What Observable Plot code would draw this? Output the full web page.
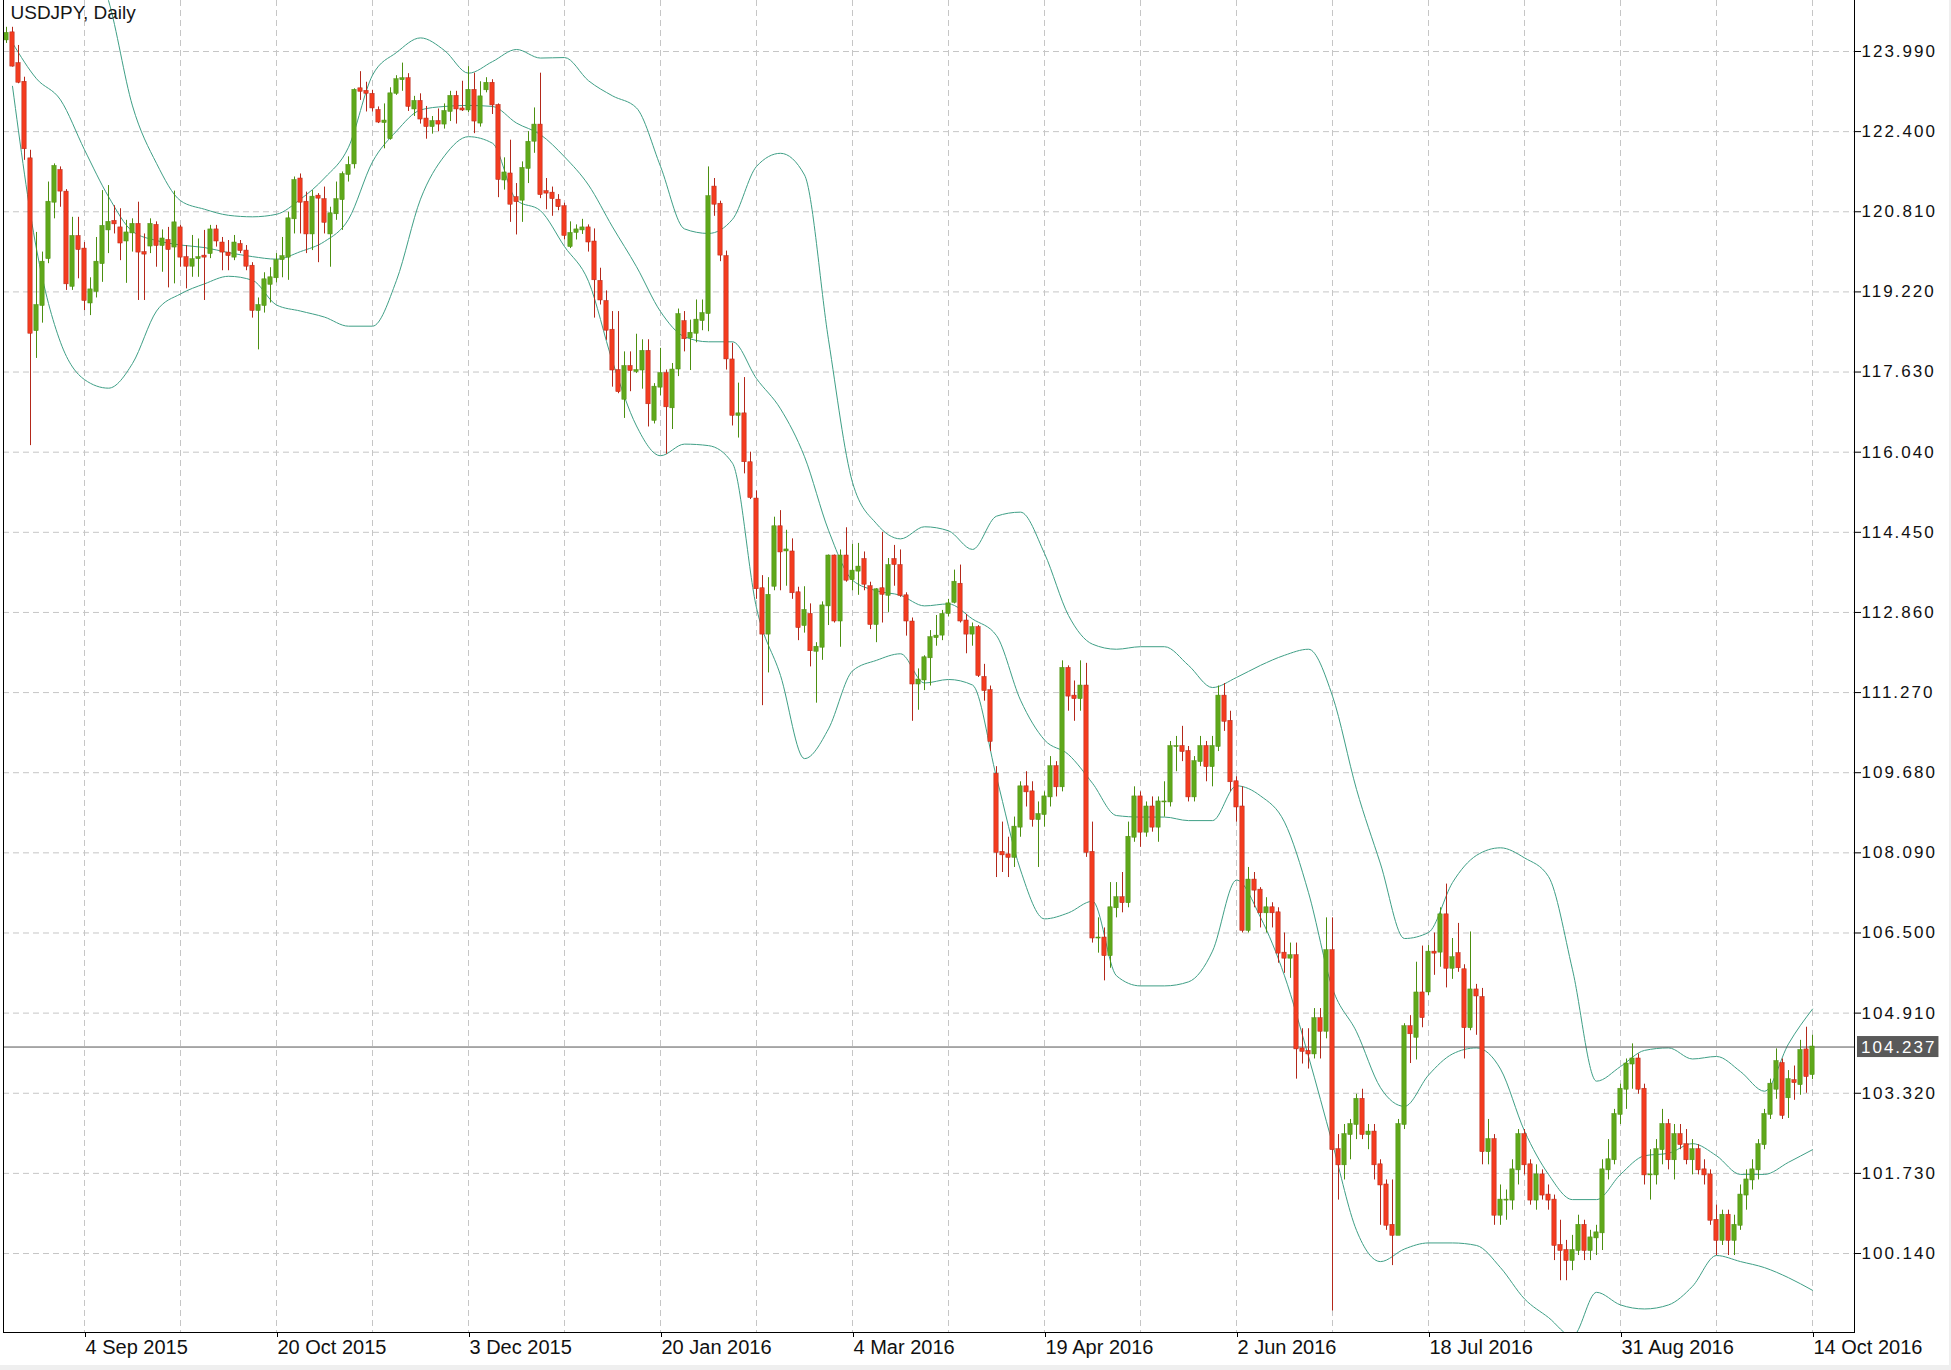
<!DOCTYPE html>
<html><head><meta charset="utf-8">
<script src="https://cdn.jsdelivr.net/npm/d3@7"></script>
<script src="https://cdn.jsdelivr.net/npm/@observablehq/plot@0.6"></script>
<style>
html,body{margin:0;padding:0;background:#efefef;}
#chart{width:1949px;height:1365px;background:#fff;}
svg{display:block}
</style></head><body><div id="chart"></div>
<script>
const title = "USDJPY, Daily";
const startDate = "2015-08-18";
const holidays = ["2015-12-25","2016-01-01"];
const open = [
124.22,124.36,123.75,123.38,121.86,118.45,118.95,119.88,121.00,121.63,
121.20,119.33,120.32,120.07,119.00,119.23,119.78,120.45,120.62,120.49,
120.23,120.39,120.56,120.00,120.13,120.54,120.14,120.24,120.11,120.49,
119.90,119.73,119.88,119.93,119.98,120.45,120.19,119.99,119.91,120.16,
120.03,119.73,118.85,118.95,119.37,119.50,119.86,119.91,120.67,121.46,
121.00,120.37,121.12,121.05,120.37,120.77,121.05,121.55,121.76,123.25,
123.20,123.14,122.82,122.58,122.26,123.16,123.43,123.45,122.85,123.00,
122.65,122.50,122.60,122.55,122.80,123.10,122.85,122.83,123.22,122.57,
123.23,123.36,122.92,121.44,121.56,121.09,121.04,121.67,122.21,122.53,
121.21,121.18,121.04,120.91,120.12,120.40,120.45,120.49,120.21,119.43,
119.03,118.46,117.66,117.09,117.74,117.64,117.67,118.04,116.67,117.33,
117.60,116.92,117.69,118.63,118.31,118.40,118.65,118.79,121.30,120.96,
119.92,117.87,116.77,116.80,115.83,115.11,113.33,112.43,113.38,114.56,
114.08,114.06,113.25,112.60,112.82,112.09,112.17,112.99,113.98,112.69,
113.98,113.51,113.68,113.91,113.37,112.62,113.33,113.20,113.91,113.79,
113.19,112.67,111.44,111.52,111.96,112.36,112.41,112.84,113.06,113.42,
112.69,112.43,112.56,111.57,111.31,109.65,108.10,108.05,108.00,108.60,
109.40,109.30,108.75,108.85,109.20,109.80,109.40,111.75,111.20,111.15,
111.40,108.10,106.40,106.40,106.05,107.00,107.20,107.10,108.40,109.20,
108.50,109.00,108.60,109.10,109.10,110.20,110.20,110.10,109.20,109.90,
110.20,109.80,110.20,111.20,110.70,109.50,109.00,106.55,107.55,107.35,
106.90,107.00,106.90,106.10,106.00,106.05,104.20,104.15,104.10,104.80,
104.55,106.15,102.20,101.90,102.50,102.70,103.20,102.50,102.55,101.90,
101.50,100.70,100.50,102.70,104.64,104.43,105.31,105.33,106.12,106.12,
106.86,105.80,106.09,105.77,104.62,105.37,105.22,102.16,102.40,100.90,
101.20,101.20,101.80,102.50,101.90,101.20,101.70,101.30,101.20,100.30,
100.20,100.00,100.20,100.70,100.20,100.45,100.55,101.80,102.00,102.90,
103.40,103.90,104.00,103.40,101.70,101.70,102.20,102.70,102.00,102.50,
102.30,102.00,102.20,101.80,101.70,100.80,100.40,100.90,100.40,100.70,
101.30,101.60,101.80,102.30,102.90,103.40,103.91,103.23,103.57,103.49,
104.18,103.69];
const high = [
124.47,124.47,124.11,123.48,122.03,120.40,120.01,121.40,121.76,121.70,
121.25,120.70,120.70,120.20,119.50,120.30,121.23,121.33,120.93,120.87,
120.64,120.67,121.00,120.37,120.67,120.61,120.45,120.50,121.22,120.54,
120.14,120.34,120.27,120.44,120.54,120.54,120.30,120.24,120.34,120.24,
120.14,119.80,119.10,119.60,119.70,119.98,120.30,120.80,121.50,121.56,
121.20,121.23,121.17,121.30,120.90,121.40,121.60,121.90,123.25,123.59,
123.38,123.22,122.89,122.95,123.27,123.51,123.76,123.55,123.10,123.15,
122.90,122.70,122.85,122.95,123.20,123.20,123.40,123.69,123.56,123.39,
123.47,123.43,122.95,121.88,122.23,121.37,121.80,122.40,122.87,123.56,
121.47,121.30,121.15,120.98,120.61,120.55,120.66,120.55,120.47,119.69,
119.24,118.83,118.83,118.03,118.03,118.38,118.27,118.27,117.40,118.10,
117.67,117.80,118.88,118.83,118.66,119.06,119.06,121.70,121.47,121.02,
120.03,118.20,117.41,117.52,116.04,115.27,113.59,113.55,114.75,114.88,
114.49,114.32,113.36,113.37,113.03,112.26,113.07,114.00,114.00,114.10,
114.54,114.21,114.23,114.06,113.46,113.33,114.45,113.93,114.19,114.10,
113.25,112.75,111.74,112.00,112.50,112.80,112.90,113.12,113.70,113.80,
112.82,112.65,112.60,111.83,111.40,109.80,108.70,108.40,108.80,109.50,
109.70,109.50,109.10,109.30,110.00,109.90,111.90,111.80,111.50,111.90,
111.85,108.70,106.80,106.60,107.50,107.50,107.70,108.70,109.40,109.30,
109.10,109.20,109.20,109.50,110.30,110.40,110.60,110.20,110.00,110.40,
110.30,110.40,111.40,111.45,110.90,109.60,109.40,107.80,107.70,107.40,
107.20,107.10,107.00,106.50,106.30,106.30,104.60,104.60,105.00,105.00,
106.80,106.80,102.50,102.70,102.80,103.30,103.40,102.70,102.70,102.00,
101.60,101.60,102.80,104.70,104.86,105.92,106.24,106.25,106.50,107.00,
107.47,106.39,106.69,105.87,106.52,105.48,105.40,102.80,102.50,101.50,
101.40,102.00,102.60,102.60,102.00,101.90,101.80,101.50,101.30,100.80,
100.40,100.50,100.90,100.80,100.60,100.70,102.00,102.40,103.00,103.50,
104.00,104.30,104.10,103.50,102.20,102.40,103.00,102.80,102.70,102.70,
102.60,102.40,102.30,102.00,101.80,101.10,101.00,101.00,100.90,101.50,
101.80,102.00,102.40,103.00,103.60,104.20,104.00,103.77,103.86,104.37,
104.63,104.47];
const low = [
124.15,123.68,123.35,121.83,116.17,117.90,118.60,119.78,120.67,120.90,
119.25,119.25,119.48,118.85,118.75,119.10,119.41,119.98,120.37,119.84,
119.39,120.01,119.05,119.05,119.98,119.71,119.61,119.30,119.38,119.71,
119.28,119.51,119.51,119.05,119.88,120.11,119.64,119.64,119.84,119.98,
119.64,118.70,118.07,118.80,119.00,119.40,119.50,119.45,120.37,120.37,
119.98,120.04,119.80,120.37,119.71,120.64,120.44,121.40,121.66,123.02,
122.79,122.79,122.56,122.06,122.23,123.12,123.20,122.80,122.70,122.55,
122.25,122.35,122.40,122.45,122.60,122.55,122.80,122.78,122.36,122.49,
123.17,122.74,121.09,121.24,120.60,120.35,120.60,121.37,121.97,121.07,
120.85,120.72,120.83,120.25,120.08,120.25,120.36,120.01,118.70,118.96,
118.26,117.33,117.20,116.71,117.24,117.60,117.29,116.54,116.60,117.16,
116.00,116.49,117.54,118.03,117.66,118.21,118.45,118.43,120.72,119.82,
117.67,116.56,116.32,115.61,115.10,113.12,111.01,111.66,113.29,113.29,
113.38,113.12,112.30,112.45,111.78,111.06,111.91,112.60,112.65,112.17,
113.46,113.29,113.20,113.29,112.52,112.26,112.65,112.86,113.38,113.16,
112.39,110.70,110.92,111.31,111.40,112.19,112.30,112.77,113.03,112.65,
112.04,112.19,111.57,111.10,110.10,107.60,107.70,107.60,107.80,108.40,
109.00,108.60,107.80,108.60,109.00,109.20,109.30,110.90,110.70,110.90,
108.00,106.30,106.10,105.55,105.80,106.80,106.90,107.00,108.30,108.20,
108.40,108.50,108.30,108.80,109.00,109.70,109.90,109.10,109.10,109.80,
109.50,109.40,110.10,110.50,109.30,108.70,106.50,106.50,107.00,106.60,
106.50,106.60,105.90,105.70,105.60,103.60,103.90,103.80,104.00,104.00,
104.40,99.00,101.20,101.60,102.00,102.40,102.40,102.20,101.60,100.70,
100.60,99.90,100.50,102.60,103.91,103.98,104.62,105.26,105.66,105.82,
105.41,105.58,105.72,104.00,104.56,104.47,101.90,101.90,100.70,100.70,
100.80,101.00,101.50,101.70,101.10,101.00,101.20,101.00,100.00,99.60,
99.60,99.80,100.10,100.00,100.00,100.10,100.20,101.60,101.90,102.70,
103.00,103.40,103.30,101.50,101.20,101.50,101.90,101.80,101.60,102.20,
101.90,101.70,101.70,101.50,100.70,100.10,100.30,100.10,100.10,100.60,
101.00,101.40,101.60,102.20,102.80,103.20,102.80,102.82,103.18,103.28,
103.32,103.59];
const close = [
124.35,123.70,123.38,122.06,118.40,118.95,119.81,121.00,121.71,121.22,
119.38,120.32,120.06,119.05,119.26,119.81,120.52,120.60,120.57,120.19,
120.39,120.56,120.01,119.97,120.56,120.14,120.27,120.06,120.59,119.91,
119.73,119.86,119.90,119.91,120.45,120.23,120.01,119.94,120.19,120.04,
119.73,118.85,118.95,119.46,119.50,119.84,119.92,120.67,121.43,121.00,
120.37,121.10,121.08,120.60,120.77,121.05,121.55,121.73,123.22,123.20,
123.16,122.87,122.59,122.61,123.15,123.43,123.45,122.90,123.00,122.65,
122.50,122.60,122.55,122.80,123.10,122.85,122.83,123.22,122.61,123.09,
123.36,122.93,121.45,121.58,120.96,121.01,121.67,122.19,122.53,121.15,
121.18,121.07,120.91,120.34,120.38,120.45,120.49,120.21,119.46,119.06,
118.46,117.67,117.24,117.74,117.66,117.66,118.04,117.00,117.33,117.60,
116.94,117.67,118.77,118.29,118.40,118.66,118.79,121.11,120.96,119.95,
117.89,116.77,116.80,115.85,115.14,113.33,112.43,113.20,114.56,114.06,
114.10,113.25,112.56,112.90,112.10,112.17,112.99,113.98,112.69,113.98,
113.50,113.68,113.76,113.42,112.62,113.31,113.22,113.79,113.81,113.20,
112.69,111.44,111.52,111.96,112.36,112.39,112.82,113.03,113.46,112.69,
112.43,112.56,111.61,111.31,110.30,108.10,108.05,108.00,108.60,109.40,
109.30,108.75,108.85,109.20,109.80,109.40,111.75,111.20,111.15,111.40,
108.10,106.40,106.40,106.05,107.00,107.20,107.10,108.40,109.20,108.50,
109.00,108.60,109.10,109.10,110.20,110.20,110.10,109.20,109.90,110.20,
109.80,110.20,111.20,110.70,109.50,109.00,106.55,107.55,107.35,106.90,
107.00,106.90,106.10,106.00,106.05,104.20,104.15,104.10,104.80,104.55,
106.15,102.20,101.90,102.50,102.70,103.20,102.50,102.55,101.90,101.50,
100.70,100.50,102.70,104.64,104.50,105.31,104.82,106.12,106.10,106.86,
105.80,106.01,105.81,104.62,105.37,105.25,102.16,102.40,100.90,101.20,
101.20,101.80,102.50,101.90,101.20,101.70,101.30,101.20,100.30,100.20,
100.00,100.20,100.70,100.20,100.45,100.55,101.80,102.00,102.90,103.40,
103.90,104.00,103.40,101.70,101.70,102.20,102.70,102.00,102.50,102.30,
102.00,102.20,101.80,101.70,100.80,100.40,100.90,100.40,100.70,101.30,
101.60,101.80,102.30,102.90,103.50,103.95,102.88,103.59,103.53,104.17,
103.65,104.237];

// Bollinger bands (20, 2), one value every 4th bar from bar 1
const bandStep = 4, bandFirstBar = 1;
const bandUpper = [125.3,126.3,126.4,126.1,125.0,122.91,121.77,121.03,120.86,120.74,120.71,120.76,121.06,121.48,122.09,123.52,123.97,124.26,124.01,123.56,123.79,124.03,123.86,123.87,123.41,123.11,122.87,121.71,120.47,120.38,120.66,121.71,121.97,121.54,118.27,115.44,114.62,114.32,114.56,114.48,114.11,114.77,114.85,114.03,112.80,112.23,112.13,112.18,112.18,111.81,111.37,111.57,111.81,112.01,112.13,111.20,109.35,107.87,106.39,106.51,107.50,108.04,108.19,107.99,107.62,105.77,103.56,103.85,104.17,104.22,104.00,104.05,103.75,103.36,104.30,104.99];
const bandMiddle = [124.16,123.45,123.03,122.04,121.11,120.42,120.24,120.15,120.10,120.00,119.92,119.87,120.02,120.22,120.66,121.80,122.41,122.83,122.90,122.92,122.90,122.57,122.34,121.90,121.34,120.51,119.72,118.83,118.33,118.23,118.23,117.50,116.90,115.95,114.49,113.50,113.29,113.20,112.99,113.03,112.73,112.40,111.12,110.33,110.04,109.47,108.83,108.80,108.80,108.73,108.73,109.42,109.22,108.70,107.30,105.40,104.54,103.43,103.06,103.68,104.10,104.22,103.80,102.57,101.71,101.21,101.21,101.71,102.08,102.13,102.32,102.08,101.71,101.71,101.95,102.20];
const bandLower = [123.30,120.07,118.22,117.48,117.31,117.80,118.84,119.18,119.38,119.53,119.45,118.96,118.84,118.72,118.54,118.54,119.45,121.06,121.92,122.30,122.17,121.04,120.83,120.12,119.43,117.84,116.56,115.97,116.20,116.17,115.82,112.95,111.61,109.96,110.55,111.70,111.91,112.04,111.46,111.53,111.42,109.59,107.75,106.78,106.90,107.13,105.65,105.45,105.45,105.53,106.14,107.55,106.81,105.65,104.05,102.32,100.60,99.98,100.23,100.35,100.35,100.30,99.86,99.24,98.87,98.50,99.37,99.12,99.04,99.12,99.49,100.10,99.98,99.86,99.66,99.41];

const yTicks = [123.99,122.40,120.81,119.22,117.63,116.04,114.45,112.86,111.27,109.68,108.09,106.50,104.91,103.32,101.73,100.14];
const dateLabels = ["4 Sep 2015","20 Oct 2015","3 Dec 2015","20 Jan 2016","4 Mar 2016","19 Apr 2016","2 Jun 2016","18 Jul 2016","31 Aug 2016","14 Oct 2016"];
const lastPrice = 104.237;

// trading calendar
const months = ["Jan","Feb","Mar","Apr","May","Jun","Jul","Aug","Sep","Oct","Nov","Dec"];
const dates = [];
{
  const d = new Date(startDate + "T00:00:00Z");
  while (dates.length < close.length) {
    const iso = d.toISOString().slice(0, 10);
    const dow = d.getUTCDay();
    if (dow !== 0 && dow !== 6 && !holidays.includes(iso)) dates.push(new Date(d));
    d.setUTCDate(d.getUTCDate() + 1);
  }
}
const fmt = dt => `${dt.getUTCDate()} ${months[dt.getUTCMonth()]} ${dt.getUTCFullYear()}`;
const bars = close.map((c, b) => ({b, label: fmt(dates[b]), open: open[b], high: high[b], low: low[b], close: c, up: c >= open[b]}));
const labelBars = bars.filter(d => dateLabels.includes(d.label)).map(d => d.b);
const halfGap = (labelBars[1] - labelBars[0]) / 2;
const gridBars = labelBars.flatMap(b => [b - halfGap, b]).filter(b => b >= 0);
const bandRows = bandUpper.map((u, k) => ({b: bandFirstBar + bandStep * k, upper: u, middle: bandMiddle[k], lower: bandLower[k]}));

const GREEN = "#5fa81b", GREEN_DARK = "#4c8f10", RED = "#f33c1f", RED_DARK = "#b3281a";
const BAND = "#3f9f86", GRID = "#c6c6c6";
const upBars = bars.filter(d => d.up), downBars = bars.filter(d => !d.up);
const halfBody = 0.36;

const chart = Plot.plot({
  width: 1949, height: 1365,
  marginLeft: 3, marginRight: 95, marginTop: 0, marginBottom: 33,
  style: {fontFamily: "'Liberation Sans', Arial, Helvetica, sans-serif", background: "#fff", color: "#111"},
  x: {type: "linear", domain: [-0.5, 308], label: null},
  y: {type: "linear", domain: [98.573, 125.002], label: null},
  marks: [
    Plot.ruleY(yTicks, {stroke: GRID, strokeDasharray: "6,4"}),
    Plot.ruleX(gridBars, {stroke: GRID, strokeDasharray: "6,4"}),
    Plot.line(bandRows, {x: "b", y: "upper", stroke: BAND, strokeWidth: 1, clip: true, curve: "monotone-x"}),
    Plot.line(bandRows, {x: "b", y: "middle", stroke: BAND, strokeWidth: 1, clip: true, curve: "monotone-x"}),
    Plot.line(bandRows, {x: "b", y: "lower", stroke: BAND, strokeWidth: 1, clip: true, curve: "monotone-x"}),
    Plot.ruleY([lastPrice], {stroke: "#555", strokeWidth: 1}),
    Plot.ruleX(upBars, {x: "b", y1: "low", y2: "high", stroke: GREEN_DARK, strokeWidth: 1}),
    Plot.ruleX(downBars, {x: "b", y1: "low", y2: "high", stroke: RED_DARK, strokeWidth: 1}),
    Plot.rect(upBars, {x1: d => d.b - halfBody, x2: d => d.b + halfBody, y1: "open", y2: "close", fill: GREEN, stroke: GREEN_DARK, strokeWidth: 0.5, insetTop: -0.5, insetBottom: -0.5}),
    Plot.rect(downBars, {x1: d => d.b - halfBody, x2: d => d.b + halfBody, y1: "open", y2: "close", fill: RED, stroke: RED_DARK, strokeWidth: 0.5, insetTop: -0.5, insetBottom: -0.5}),
    Plot.frame({anchor: "left", stroke: "#000"}),
    Plot.frame({anchor: "right", stroke: "#000"}),
    Plot.frame({anchor: "bottom", stroke: "#000"}),
    Plot.axisY(yTicks, {anchor: "right", label: null, tickSize: 6, tickPadding: 1, tickFormat: d => d.toFixed(3), fontSize: 17, stroke: "#000", fill: "#111"}),
    Plot.axisX(labelBars, {anchor: "bottom", label: null, tickSize: 5, tickPadding: 2, tickFormat: b => bars[b].label, textAnchor: "start", dx: 1, fontSize: 20, stroke: "#000", fill: "#111"}),
    Plot.text([title], {frameAnchor: "top-left", dx: 7, dy: 5, lineAnchor: "top", textAnchor: "start", fontSize: 19, fill: "#161616"})
  ]
});
document.getElementById("chart").appendChild(chart);

// current-price tag on the right axis, placed through the chart's own y scale
const yScale = chart.scale("y"), xScale = chart.scale("x");
const tagY = yScale.apply(lastPrice);
const tagX = xScale.range[1];
const svg = d3.select(chart);
const tag = svg.append("g").attr("class", "last-price").attr("text-anchor", "start");
const tagText = tag.append("text")
  .attr("x", tagX + 7).attr("y", tagY).attr("dy", "0.36em")
  .attr("text-anchor", "start")
  .attr("fill", "#fff").attr("font-size", 17).style("letter-spacing", "2px")
  .text(lastPrice.toFixed(3));
const bb = tagText.node().getBBox();
tag.insert("rect", "text")
  .attr("x", tagX + 3).attr("y", tagY - 10.5).attr("width", bb.width + 6).attr("height", 21)
  .attr("fill", "#595959");
svg.selectAll('g[aria-label="y-axis tick label"] text').style("letter-spacing", "2px");
</script></body></html>
